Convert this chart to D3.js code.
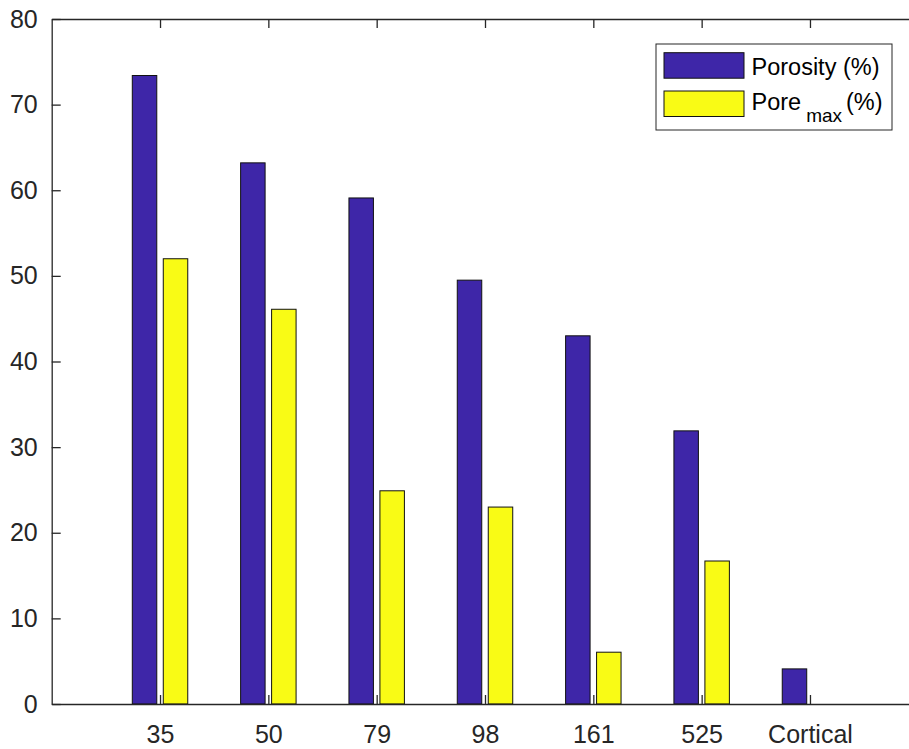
<!DOCTYPE html>
<html>
<head>
<meta charset="utf-8">
<script src="https://cdn.jsdelivr.net/npm/d3@7"></script>
<style>
  html, body { margin: 0; padding: 0; background: #fff; }
  svg { display: block; font-family: "Liberation Sans", Arial, Helvetica, sans-serif; }
</style>
</head>
<body>
<svg id="chart" width="909" height="749"></svg>
<script>
// Pore-size groups and the two measured quantities for each
const categories = ["35", "50", "79", "98", "161", "525", "Cortical"];
const porosity = [73.4, 63.2, 59.1, 49.5, 43.0, 31.9, 4.1];
const poreMax = [52.0, 46.1, 24.9, 23.0, 6.05, 16.7, 0];
const yTicks = [0, 10, 20, 30, 40, 50, 60, 70, 80];
const seriesNames = ["Porosity (%)", "Pore max (%)"];

const svg = d3.select("#chart");
const axisColor = "#262626";
const colors = ["#3e26a8", "#f9fb15"];

// Axes box: x runs over category slots 0..8, y over 0..80
const x = d3.scaleLinear().domain([0, categories.length + 1]).range([51.7, 918.3]);
const y = d3.scaleLinear().domain([0, 80]).range([704, 19]);

const barWidth = 0.226;   // in category units
const barOffset = 0.143;  // centre shift of each series from its tick

const series = [porosity, poreMax];
series.forEach((vals, s) => {
  const shift = s === 0 ? -barOffset : barOffset;
  svg.append("g")
    .selectAll("rect")
    .data(vals.map((v, i) => ({ v, i })).filter(d => d.v > 0))
    .join("rect")
    .attr("x", d => x(d.i + 1 + shift - barWidth / 2))
    .attr("width", x(barWidth) - x(0))
    .attr("y", d => y(d.v))
    .attr("height", d => y(0) - y(d.v))
    .attr("fill", colors[s])
    .attr("stroke", "#111")
    .attr("stroke-width", 1);
});

const tickIdx = d3.range(1, categories.length + 1);

function styleAxis(g) {
  g.selectAll("path.domain").attr("stroke", axisColor).attr("stroke-width", 1.3);
  g.selectAll(".tick line").attr("stroke", axisColor).attr("stroke-width", 1.3);
  g.selectAll(".tick text").attr("fill", axisColor);
}

// Bottom axis with category names, ticks pointing into the plot
svg.append("g")
  .attr("transform", `translate(0,${y(0)})`)
  .call(d3.axisBottom(x).tickValues(tickIdx).tickFormat(i => categories[i - 1])
    .tickSizeInner(-9).tickSizeOuter(0).tickPadding(21))
  .call(styleAxis)
  .call(g => g.selectAll("text").attr("font-size", 25).attr("font-family", null));

// Top edge of the box, mirrored ticks only
svg.append("g")
  .attr("transform", `translate(0,${y(80)})`)
  .call(d3.axisTop(x).tickValues(tickIdx).tickFormat(() => "")
    .tickSizeInner(-9).tickSizeOuter(0))
  .call(styleAxis);

// Left axis
svg.append("g")
  .attr("transform", `translate(${x(0)},0)`)
  .call(d3.axisLeft(y).tickValues(yTicks).tickFormat(d3.format("d"))
    .tickSizeInner(-9).tickSizeOuter(0).tickPadding(14))
  .call(styleAxis)
  .call(g => g.selectAll("text").attr("font-size", 25).attr("font-family", null));

// Right edge of the box, mirrored ticks only
svg.append("g")
  .attr("transform", `translate(${x(categories.length + 1)},0)`)
  .call(d3.axisRight(y).tickValues(yTicks).tickFormat(() => "")
    .tickSizeInner(-9).tickSizeOuter(0))
  .call(styleAxis);

// Legend
const legend = svg.append("g");
legend.append("rect")
  .attr("x", 656).attr("y", 44).attr("width", 236).attr("height", 86)
  .attr("fill", "#fff").attr("stroke", axisColor).attr("stroke-width", 1);

const rows = [{ y: 52.7 }, { y: 91 }];
rows.forEach((r, k) => {
  legend.append("rect")
    .attr("x", 664).attr("y", r.y).attr("width", 80).attr("height", 25.5)
    .attr("fill", colors[k]).attr("stroke", "#111").attr("stroke-width", 1);
});

legend.append("text")
  .attr("x", 751.5).attr("y", 75).attr("font-size", 23.5).attr("fill", "#000")
  .text(seriesNames[0]);

const t2 = legend.append("text")
  .attr("x", 751.5).attr("y", 110).attr("font-size", 23.5).attr("fill", "#000");
const parts = seriesNames[1].split(" ");
t2.append("tspan").text(parts[0]);
t2.append("tspan").attr("font-size", 19).attr("dy", 12).attr("dx", 5).text(parts[1]);
t2.append("tspan").attr("dy", -12).attr("dx", 4).text(parts[2]);
</script>
</body>
</html>
